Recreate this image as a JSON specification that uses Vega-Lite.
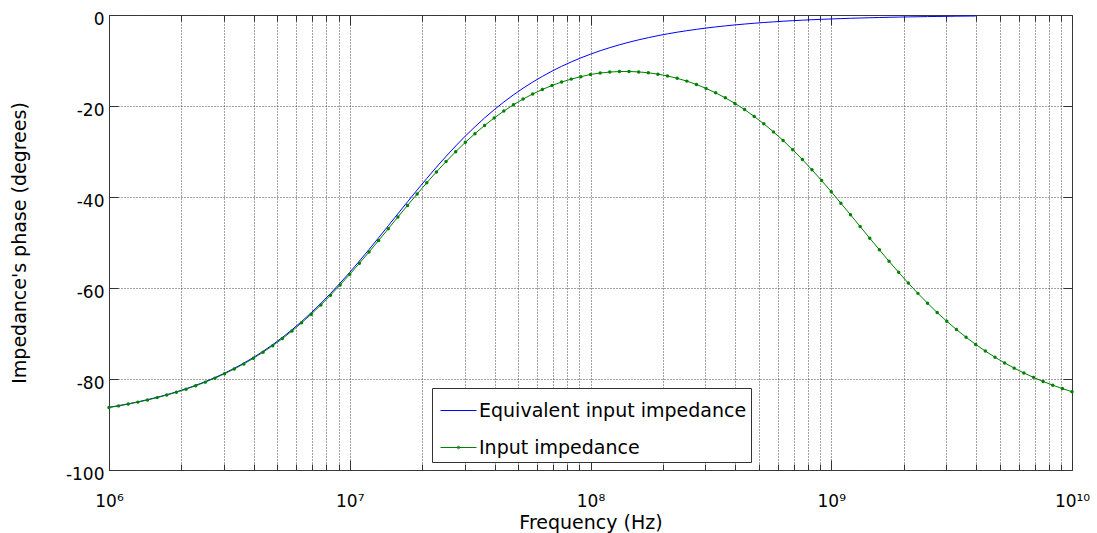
{
"$schema": "https://vega.github.io/schema/vega-lite/v6.json",
"width": 963, "height": 455,
"autosize": "none",
"padding": {"left": 109, "top": 15, "right": 25, "bottom": 63},
"background": "white",
"config": {
  "font": "DejaVu Sans",
  "view": {"stroke": "#333", "strokeWidth": 1},
  "axis": {"labelColor": "#000", "titleColor": "#000", "titleFontWeight": "normal", "tickColor": "#333", "domain": false}
},
"datasets": {
"eq": [
{"f":1e6,"p":-86.22},{"f":1.0965e6,"p":-85.86},{"f":1.2023e6,"p":-85.46},{"f":1.3183e6,"p":-85.02},{"f":1.4454e6,"p":-84.55},{"f":1.5849e6,"p":-84.02},{"f":1.7378e6,"p":-83.45},{"f":1.9055e6,"p":-82.83},{"f":2.0893e6,"p":-82.14},{"f":2.2909e6,"p":-81.39},{"f":2.5119e6,"p":-80.58},{"f":2.7542e6,"p":-79.69},{"f":3.02e6,"p":-78.72},{"f":3.3113e6,"p":-77.66},{"f":3.6308e6,"p":-76.51},{"f":3.9811e6,"p":-75.26},{"f":4.3652e6,"p":-73.91},{"f":4.7863e6,"p":-72.45},{"f":5.2481e6,"p":-70.88},{"f":5.7544e6,"p":-69.18},{"f":6.3096e6,"p":-67.37},{"f":6.9183e6,"p":-65.44},{"f":7.5858e6,"p":-63.38},{"f":8.3176e6,"p":-61.21},{"f":9.1201e6,"p":-58.93},
{"f":1e7,"p":-56.55},{"f":1.0965e7,"p":-54.08},{"f":1.2023e7,"p":-51.54},{"f":1.3183e7,"p":-48.95},{"f":1.4454e7,"p":-46.32},{"f":1.5849e7,"p":-43.68},{"f":1.7378e7,"p":-41.06},{"f":1.9055e7,"p":-38.46},{"f":2.0893e7,"p":-35.92},{"f":2.2909e7,"p":-33.45},{"f":2.5119e7,"p":-31.07},{"f":2.7542e7,"p":-28.79},{"f":3.02e7,"p":-26.62},{"f":3.3113e7,"p":-24.57},{"f":3.6308e7,"p":-22.63},{"f":3.9811e7,"p":-20.82},{"f":4.3652e7,"p":-19.12},{"f":4.7863e7,"p":-17.55},{"f":5.2481e7,"p":-16.09},{"f":5.7544e7,"p":-14.74},{"f":6.3096e7,"p":-13.49},{"f":6.9183e7,"p":-12.34},{"f":7.5858e7,"p":-11.28},{"f":8.3176e7,"p":-10.31},{"f":9.1201e7,"p":-9.42},
{"f":1e8,"p":-8.61},{"f":1.0965e8,"p":-7.86},{"f":1.2023e8,"p":-7.18},{"f":1.3183e8,"p":-6.55},{"f":1.4454e8,"p":-5.98},{"f":1.5849e8,"p":-5.46},{"f":1.7378e8,"p":-4.98},{"f":1.9055e8,"p":-4.54},{"f":2.0893e8,"p":-4.14},{"f":2.2909e8,"p":-3.78},{"f":2.5119e8,"p":-3.45},{"f":2.7542e8,"p":-3.15},{"f":3.02e8,"p":-2.87},{"f":3.3113e8,"p":-2.62},{"f":3.6308e8,"p":-2.39},{"f":3.9811e8,"p":-2.18},{"f":4.3652e8,"p":-1.99},{"f":4.7863e8,"p":-1.81},{"f":5.2481e8,"p":-1.65},{"f":5.7544e8,"p":-1.51},{"f":6.3096e8,"p":-1.37},{"f":6.9183e8,"p":-1.25},{"f":7.5858e8,"p":-1.14},{"f":8.3176e8,"p":-1.04},{"f":9.1201e8,"p":-0.95},
{"f":1e9,"p":-0.87},{"f":1.0965e9,"p":-0.79},{"f":1.2023e9,"p":-0.72},{"f":1.3183e9,"p":-0.66},{"f":1.4454e9,"p":-0.6},{"f":1.5849e9,"p":-0.55},{"f":1.7378e9,"p":-0.5},{"f":1.9055e9,"p":-0.46},{"f":2.0893e9,"p":-0.42},{"f":2.2909e9,"p":-0.38},{"f":2.5119e9,"p":-0.35},{"f":2.7542e9,"p":-0.32},{"f":3.02e9,"p":-0.29},{"f":3.3113e9,"p":-0.26},{"f":3.6308e9,"p":-0.24},{"f":3.9811e9,"p":-0.22}
],
"inp": [
{"f":1e6,"p":-86.27},{"f":1.0965e6,"p":-85.91},{"f":1.2023e6,"p":-85.51},{"f":1.3183e6,"p":-85.08},{"f":1.4454e6,"p":-84.61},{"f":1.5849e6,"p":-84.09},{"f":1.7378e6,"p":-83.53},{"f":1.9055e6,"p":-82.91},{"f":2.0893e6,"p":-82.23},{"f":2.2909e6,"p":-81.5},{"f":2.5119e6,"p":-80.69},{"f":2.7542e6,"p":-79.81},{"f":3.02e6,"p":-78.85},{"f":3.3113e6,"p":-77.81},{"f":3.6308e6,"p":-76.68},{"f":3.9811e6,"p":-75.44},{"f":4.3652e6,"p":-74.11},{"f":4.7863e6,"p":-72.67},{"f":5.2481e6,"p":-71.12},{"f":5.7544e6,"p":-69.45},{"f":6.3096e6,"p":-67.66},{"f":6.9183e6,"p":-65.75},{"f":7.5858e6,"p":-63.73},{"f":8.3176e6,"p":-61.59},{"f":9.1201e6,"p":-59.34},
{"f":1e7,"p":-57.0},{"f":1.0965e7,"p":-54.58},{"f":1.2023e7,"p":-52.09},{"f":1.3183e7,"p":-49.55},{"f":1.4454e7,"p":-46.98},{"f":1.5849e7,"p":-44.4},{"f":1.7378e7,"p":-41.85},{"f":1.9055e7,"p":-39.33},{"f":2.0893e7,"p":-36.87},{"f":2.2909e7,"p":-34.49},{"f":2.5119e7,"p":-32.21},{"f":2.7542e7,"p":-30.04},{"f":3.02e7,"p":-27.99},{"f":3.3113e7,"p":-26.08},{"f":3.6308e7,"p":-24.28},{"f":3.9811e7,"p":-22.63},{"f":4.3652e7,"p":-21.11},{"f":4.7863e7,"p":-19.73},{"f":5.2481e7,"p":-18.48},{"f":5.7544e7,"p":-17.36},{"f":6.3096e7,"p":-16.36},{"f":6.9183e7,"p":-15.49},{"f":7.5858e7,"p":-14.73},{"f":8.3176e7,"p":-14.09},{"f":9.1201e7,"p":-13.56},
{"f":1e8,"p":-13.07},{"f":1.0965e8,"p":-12.75},{"f":1.2023e8,"p":-12.54},{"f":1.3183e8,"p":-12.42},{"f":1.4454e8,"p":-12.41},{"f":1.5849e8,"p":-12.51},{"f":1.7378e8,"p":-12.7},{"f":1.9055e8,"p":-13.0},{"f":2.0893e8,"p":-13.39},{"f":2.2909e8,"p":-13.91},{"f":2.5119e8,"p":-14.53},{"f":2.7542e8,"p":-15.27},{"f":3.02e8,"p":-16.13},{"f":3.3113e8,"p":-17.11},{"f":3.6308e8,"p":-18.21},{"f":3.9811e8,"p":-19.43},{"f":4.3652e8,"p":-20.79},{"f":4.7863e8,"p":-22.29},{"f":5.2481e8,"p":-23.92},{"f":5.7544e8,"p":-25.69},{"f":6.3096e8,"p":-27.58},{"f":6.9183e8,"p":-29.61},{"f":7.5858e8,"p":-31.76},{"f":8.3176e8,"p":-34.03},{"f":9.1201e8,"p":-36.39},
{"f":1e9,"p":-38.84},{"f":1.0965e9,"p":-41.36},{"f":1.2023e9,"p":-43.91},{"f":1.3183e9,"p":-46.49},{"f":1.4454e9,"p":-49.06},{"f":1.5849e9,"p":-51.61},{"f":1.7378e9,"p":-54.12},{"f":1.9055e9,"p":-56.56},{"f":2.0893e9,"p":-58.92},{"f":2.2909e9,"p":-61.18},{"f":2.5119e9,"p":-63.34},{"f":2.7542e9,"p":-65.4},{"f":3.02e9,"p":-67.32},{"f":3.3113e9,"p":-69.12},{"f":3.6308e9,"p":-70.82},{"f":3.9811e9,"p":-72.4},{"f":4.3652e9,"p":-73.86},{"f":4.7863e9,"p":-75.21},{"f":5.2481e9,"p":-76.46},{"f":5.7544e9,"p":-77.61},{"f":6.3096e9,"p":-78.67},{"f":6.9183e9,"p":-79.64},{"f":7.5858e9,"p":-80.54},{"f":8.3176e9,"p":-81.36},{"f":9.1201e9,"p":-82.11},
{"f":1e10,"p":-82.79}
]
},
"layer": [
{
  "data": {"name": "eq"},
  "mark": {"type": "line", "strokeWidth": 1},
  "encoding": {
    "x": {"field": "f", "type": "quantitative",
      "scale": {"type": "log", "domain": [1e6, 1e10], "nice": false},
      "axis": {"orient": "bottom", "title": "Frequency (Hz)", "titleFontSize": 19, "titlePadding": 0,
        "values": [1e6,2e6,3e6,4e6,5e6,6e6,7e6,8e6,9e6,1e7,2e7,3e7,4e7,5e7,6e7,7e7,8e7,9e7,1e8,2e8,3e8,4e8,5e8,6e8,7e8,8e8,9e8,1e9,2e9,3e9,4e9,5e9,6e9,7e9,8e9,9e9,1e10],
        "labelExpr": "abs(log(datum.value)/LN10 - round(log(datum.value)/LN10)) < 0.01 ? '10' + ['⁶','⁷','⁸','⁹','¹⁰'][round(log(datum.value)/LN10) - 6] : ''",
        "labelOverlap": false, "labelFlush": false, "labelFontSize": 17, "labelPadding": 33,
        "grid": true, "gridColor": "#444", "gridDash": [1, 2], "gridWidth": 1,
        "tickSize": {"condition": {"test": "abs(log(datum.value)/LN10 - round(log(datum.value)/LN10)) < 0.01", "value": -10}, "value": -6}
      }},
    "y": {"field": "p", "type": "quantitative",
      "scale": {"domain": [-100, 0], "nice": false},
      "axis": {"orient": "left", "title": "Impedance's phase (degrees)", "titleFontSize": 19, "titlePadding": 36,
        "values": [-100, -80, -60, -40, -20, 0], "labelExpr": "'' + datum.value", "labelFontSize": 17, "labelPadding": 14, "labelOffset": 4,
        "grid": true, "gridColor": "#444", "gridDash": [1, 2], "gridWidth": 1, "tickSize": -9}},
    "color": {"datum": "Equivalent input impedance",
      "scale": {"domain": ["Equivalent input impedance", "Input impedance"], "range": ["#0000ff", "#008000"]},
      "legend": {"orient": "none", "legendX": 323, "legendY": 373, "title": null, "direction": "vertical",
        "symbolType": "stroke", "symbolSize": 1296, "symbolStrokeWidth": 1, "labelFontSize": 19, "labelColor": "#000", "labelLimit": 500,
        "padding": 4, "rowPadding": 8, "symbolOffset": 4, "labelOffset": 2,
        "strokeColor": "#333", "fillColor": "white", "cornerRadius": 0,
        "encode": {"symbols": {"update": {"shape": {"signal": "datum.value === 'Input impedance' ? 'M-1,0H1M-0.07,0A0.07,0.07,0,1,1,0.07,0A0.07,0.07,0,1,1,-0.07,0' : 'stroke'"}}}}}}
  }
},
{
  "data": {"name": "inp"},
  "mark": {"type": "line", "strokeWidth": 1},
  "encoding": {
    "x": {"field": "f", "type": "quantitative",
      "axis": {"orient": "top", "title": null, "labels": false, "grid": false,
        "values": [1e6,2e6,3e6,4e6,5e6,6e6,7e6,8e6,9e6,1e7,2e7,3e7,4e7,5e7,6e7,7e7,8e7,9e7,1e8,2e8,3e8,4e8,5e8,6e8,7e8,8e8,9e8,1e9,2e9,3e9,4e9,5e9,6e9,7e9,8e9,9e9,1e10],
        "tickSize": {"condition": {"test": "abs(log(datum.value)/LN10 - round(log(datum.value)/LN10)) < 0.01", "value": -10}, "value": -6}}},
    "y": {"field": "p", "type": "quantitative",
      "axis": {"orient": "right", "title": null, "labels": false, "grid": false, "values": [-80, -60, -40, -20], "tickSize": -9}},
    "color": {"datum": "Input impedance"}
  }
},
{
  "data": {"name": "inp"},
  "mark": {"type": "point", "filled": true, "size": 12, "color": "#008000", "opacity": 1},
  "encoding": {
    "x": {"field": "f", "type": "quantitative", "axis": null},
    "y": {"field": "p", "type": "quantitative", "axis": null}
  }
}
],
"resolve": {"axis": {"x": "independent", "y": "independent"}}
}
